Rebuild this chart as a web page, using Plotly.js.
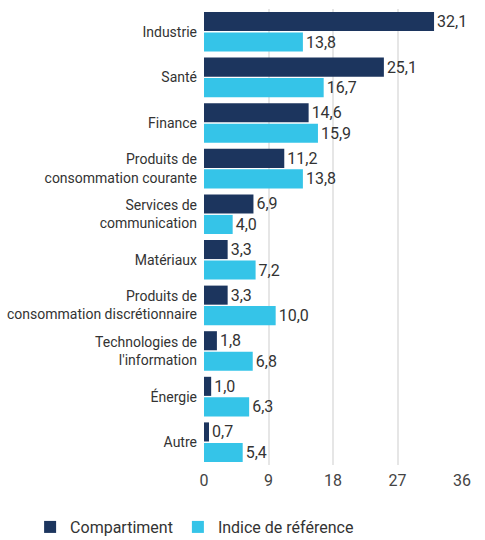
<!DOCTYPE html>
<html>
<head>
<meta charset="utf-8">
<script src="https://cdn.plot.ly/plotly-3.0.1.min.js"></script>
<style>html,body{margin:0;padding:0;background:#fff;}#chart{width:485px;height:540px;}</style>
</head>
<body>
<div id="chart"></div>
<script>
var categories = ["Industrie","Santé","Finance","Produits de<br>consommation courante","Services de<br>communication","Matériaux","Produits de<br>consommation discrétionnaire","Technologies de<br>l'information","Énergie","Autre"];
var compartiment = [32.1,25.1,14.6,11.2,6.9,3.3,3.3,1.8,1.0,0.7];
var indice = [13.8,16.7,15.9,13.8,4.0,7.2,10.0,6.8,6.3,5.4];
var seriesNames = ["Compartiment","Indice de référence"];
var xTicks = [0,9,18,27,36];

var FONT = "Roboto, DejaVu Sans Condensed, sans-serif";

var traces = [
  {type:"bar", orientation:"h", name:seriesNames[0], y:categories, x:compartiment,
   marker:{color:"#1c355e"}, texttemplate:"%{x:.1f}", textposition:"outside",
   textfont:{family:FONT,size:16,color:"#333333"}, cliponaxis:false, hoverinfo:"none"},
  {type:"bar", orientation:"h", name:seriesNames[1], y:categories, x:indice,
   marker:{color:"#35c4e8"}, texttemplate:"%{x:.1f}", textposition:"outside",
   textfont:{family:FONT,size:16,color:"#333333"}, cliponaxis:false, hoverinfo:"none"}
];

var layout = {
  width:485, height:540,
  margin:{l:204, r:23, t:9, b:75, pad:0, autoexpand:false},
  paper_bgcolor:"#ffffff", plot_bgcolor:"#ffffff",
  separators:",.",
  barmode:"group", bargap:0.1, bargroupgap:0.07,
  font:{family:FONT, size:15, color:"#333333"},
  xaxis:{range:[0,36], tickvals:xTicks, showgrid:true, gridcolor:"#e6e6e6", gridwidth:2,
         zeroline:false, showline:false, ticks:"", ticklabelstandoff:4,
         tickfont:{family:FONT,size:16,color:"#444444"}},
  yaxis:{autorange:"reversed", showgrid:false, zeroline:false, showline:false, ticks:"",
         ticklabelstandoff:6, tickfont:{family:FONT,size:14,color:"#333333"}},
  showlegend:true,
  legend:{orientation:"h", x:-0.674, xanchor:"left", y:-0.136, yanchor:"middle",
          font:{family:FONT,size:16,color:"#333333"}, traceorder:"normal", itemwidth:30},
};

Plotly.newPlot("chart", traces, layout, {staticPlot:true, displayModeBar:false});
</script>
</body>
</html>
